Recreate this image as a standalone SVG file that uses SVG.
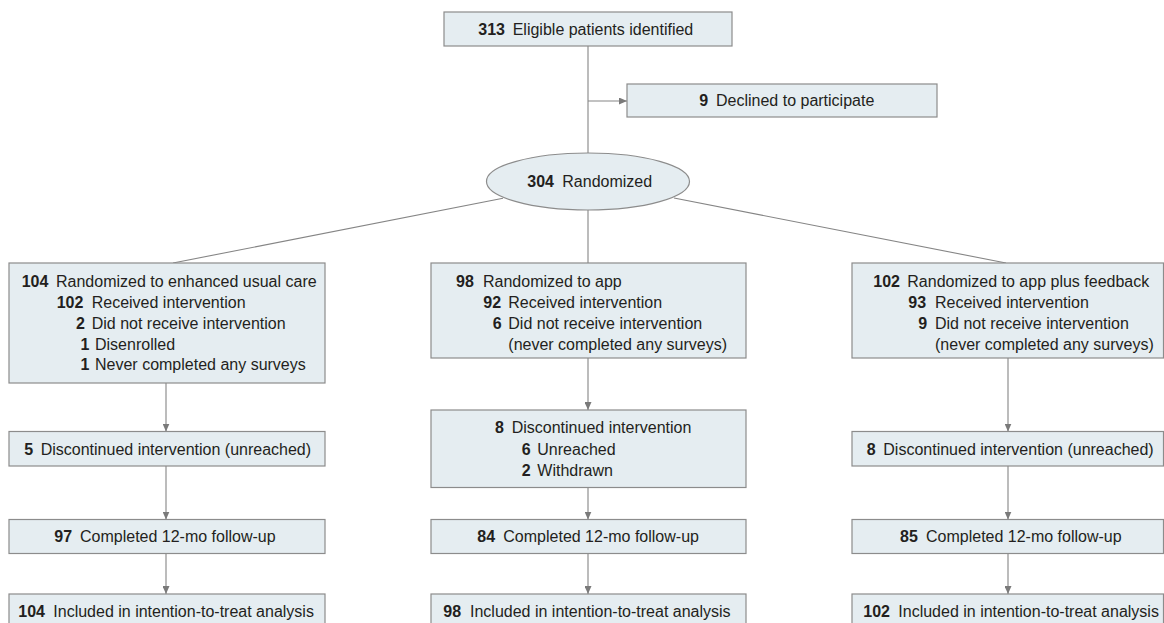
<svg xmlns="http://www.w3.org/2000/svg" width="1164" height="623" viewBox="0 0 1164 623">
<style>
.box{fill:#e5edf1;stroke:#8c8c8c;stroke-width:1.2}
.ln{fill:none;stroke:#858585;stroke-width:1.1}
.ar{fill:none;stroke:#858585;stroke-width:1.1;marker-end:url(#ah)}
text{font-family:"Liberation Sans",Arial,sans-serif;font-size:16px;fill:#231f20}
.n{font-weight:bold}
</style>
<defs>
<marker id="ah" viewBox="0 0 8 7" refX="8" refY="3.5" markerWidth="8" markerHeight="7" markerUnits="userSpaceOnUse" orient="auto">
<path d="M0,0 L8,3.5 L0,7 z" fill="#7a7a7a"/>
</marker>
</defs>
<g id="connectors">
<line class="ln" x1="588" y1="46" x2="588" y2="153"/>
<line class="ar" x1="588" y1="101" x2="627" y2="101"/>
<line class="ln" x1="503" y1="198.3" x2="173" y2="263"/>
<line class="ln" x1="588" y1="210" x2="588" y2="263"/>
<line class="ln" x1="674" y1="198" x2="1006" y2="263"/>
<line class="ar" x1="166" y1="383" x2="166" y2="431.5"/>
<line class="ar" x1="166" y1="466" x2="166" y2="519.5"/>
<line class="ar" x1="166" y1="553.5" x2="166" y2="594"/>
<line class="ar" x1="588" y1="358" x2="588" y2="410"/>
<line class="ar" x1="588" y1="487.5" x2="588" y2="519.5"/>
<line class="ar" x1="588" y1="553.5" x2="588" y2="594"/>
<line class="ar" x1="1008" y1="358" x2="1008" y2="431.5"/>
<line class="ar" x1="1008" y1="466" x2="1008" y2="519.5"/>
<line class="ar" x1="1008" y1="553.5" x2="1008" y2="594"/>
</g>
<g id="eligible">
<rect class="box" x="444" y="12" width="288" height="34"/>
<text x="478.3" y="35"><tspan class="n">313</tspan><tspan x="512.7">Eligible patients identified</tspan></text>
</g>
<g id="declined">
<rect class="box" x="627" y="84" width="310" height="33"/>
<text x="699.3" y="106"><tspan class="n">9</tspan><tspan x="716">Declined to participate</tspan></text>
</g>
<g id="randomized">
<ellipse class="box" cx="588" cy="181.5" rx="101.5" ry="28.5"/>
<text x="527.3" y="186.5"><tspan class="n">304</tspan><tspan x="562.3">Randomized</tspan></text>
</g>
<g id="arm-usual">
<rect class="box" x="9" y="263" width="316" height="120"/>
<text x="21.7" y="287"><tspan class="n">104</tspan><tspan x="56">Randomized to enhanced usual care</tspan></text>
<text x="56.7" y="308"><tspan class="n">102</tspan><tspan x="91.7">Received intervention</tspan></text>
<text x="76" y="328.8"><tspan class="n">2</tspan><tspan x="91.7">Did not receive intervention</tspan></text>
<text x="80.5" y="349.6"><tspan class="n">1</tspan><tspan x="95">Disenrolled</tspan></text>
<text x="80.5" y="370.4"><tspan class="n">1</tspan><tspan x="95">Never completed any surveys</tspan></text>
</g>
<g id="arm-app">
<rect class="box" x="431" y="263" width="315" height="95"/>
<text x="456" y="287"><tspan class="n">98</tspan><tspan x="483">Randomized to app</tspan></text>
<text x="483.3" y="308"><tspan class="n">92</tspan><tspan x="508.3">Received intervention</tspan></text>
<text x="492.7" y="328.8"><tspan class="n">6</tspan><tspan x="508.3">Did not receive intervention</tspan></text>
<text x="508.3" y="349.6">(never completed any surveys)</text>
</g>
<g id="arm-feedback">
<rect class="box" x="852" y="263" width="311.5" height="95"/>
<text x="873.3" y="287"><tspan class="n">102</tspan><tspan x="907.3">Randomized to app plus feedback</tspan></text>
<text x="908.3" y="308"><tspan class="n">93</tspan><tspan x="935">Received intervention</tspan></text>
<text x="918.3" y="328.8"><tspan class="n">9</tspan><tspan x="935">Did not receive intervention</tspan></text>
<text x="935" y="349.6">(never completed any surveys)</text>
</g>
<g id="disc-usual">
<rect class="box" x="9" y="431.5" width="316" height="34.5"/>
<text x="24.3" y="454.5"><tspan class="n">5</tspan><tspan x="40.7">Discontinued intervention (unreached)</tspan></text>
</g>
<g id="disc-app">
<rect class="box" x="431" y="410" width="315" height="77.5"/>
<text x="495" y="433"><tspan class="n">8</tspan><tspan x="511.7">Discontinued intervention</tspan></text>
<text x="521.7" y="454.5"><tspan class="n">6</tspan><tspan x="537.3">Unreached</tspan></text>
<text x="521.7" y="475.5"><tspan class="n">2</tspan><tspan x="537.3">Withdrawn</tspan></text>
</g>
<g id="disc-feedback">
<rect class="box" x="852" y="431.5" width="311.5" height="34.5"/>
<text x="866.7" y="454.5"><tspan class="n">8</tspan><tspan x="883.3">Discontinued intervention (unreached)</tspan></text>
</g>
<g id="fu-usual">
<rect class="box" x="9" y="519.5" width="316" height="34"/>
<text x="54.3" y="542"><tspan class="n">97</tspan><tspan x="80">Completed 12-mo follow-up</tspan></text>
</g>
<g id="fu-app">
<rect class="box" x="431" y="519.5" width="315" height="34"/>
<text x="477.3" y="542"><tspan class="n">84</tspan><tspan x="503.3">Completed 12-mo follow-up</tspan></text>
</g>
<g id="fu-feedback">
<rect class="box" x="852" y="519.5" width="311.5" height="34"/>
<text x="900" y="542"><tspan class="n">85</tspan><tspan x="926">Completed 12-mo follow-up</tspan></text>
</g>
<g id="itt-usual">
<rect class="box" x="9" y="594" width="316" height="34"/>
<text x="18.3" y="617"><tspan class="n">104</tspan><tspan x="53.3">Included in intention-to-treat analysis</tspan></text>
</g>
<g id="itt-app">
<rect class="box" x="431" y="594" width="315" height="34"/>
<text x="443.3" y="617"><tspan class="n">98</tspan><tspan x="470">Included in intention-to-treat analysis</tspan></text>
</g>
<g id="itt-feedback">
<rect class="box" x="852" y="594" width="311.5" height="34"/>
<text x="863.3" y="617"><tspan class="n">102</tspan><tspan x="898.3">Included in intention-to-treat analysis</tspan></text>
</g>
</svg>
